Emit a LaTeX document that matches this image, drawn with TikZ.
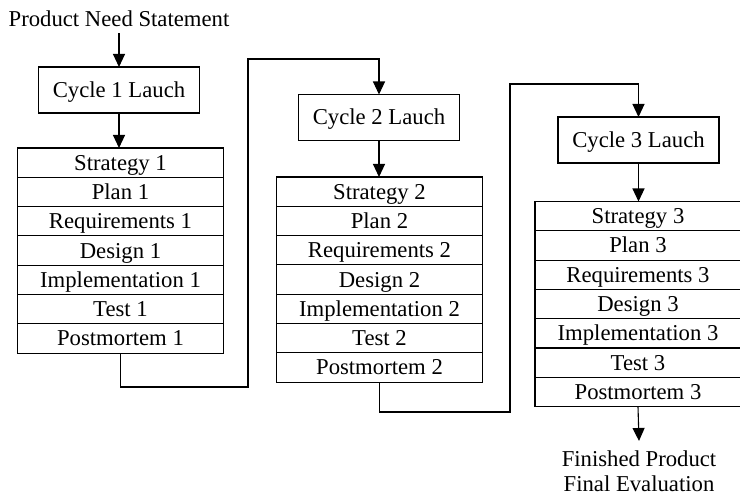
\documentclass[tikz,border=0pt]{standalone}
\usepackage{fontspec}
\setmainfont{Liberation Serif}
\usetikzlibrary{arrows.meta}

\begin{document}
\begin{tikzpicture}
		[
			x=1pt,
			y=-1pt,
			line width=1.1pt,
			font=\fontsize{22.7}{25}\selectfont,
			% Make a style for a launch box.
			launch/.style={draw, minimum width=161pt, minimum height=46pt, inner sep=0pt, outer sep=0pt, text height=15pt, text depth=0pt},
			% And one for a phase row of a cycle.
			phase/.style={draw, minimum width=206pt, minimum height=29.3pt, inner sep=0pt, outer sep=0pt, text height=15pt, text depth=0pt},
			% Arrows between the parts.
			flow/.style={-{Triangle[width=12pt,length=13pt]}}
		]
			\useasboundingbox (0,0) rectangle (740,497);

			\node[inner xsep=0pt, inner ysep=6pt, text height=15pt, text depth=0pt] (need) at (119,19) {Product Need Statement};

			% Launch boxes.
			\node[launch] (c1) at (119,90) {Cycle 1 Lauch};
			\node[launch] (c2) at (379,117.5) {Cycle 2 Lauch};
			\node[launch] (c3) at (638.5,140) {Cycle 3 Lauch};

			% Phase stacks, one for each cycle.
			\foreach \c/\x/\t in {1/120.5/148, 2/379.5/177, 3/638/201.5}
			{
				\foreach \lbl [count=\i] in {Strategy, Plan, Requirements, Design, Implementation, Test, Postmortem}
				{
					\node[phase] (s\c-\i) at (\x,{\t+(\i-0.5)*29.3}) {\lbl\ \c};
				}
			}

			\node[align=center, inner xsep=0pt, inner ysep=9pt] (done) at (639,471) {Finished Product\\Final Evaluation};

			% Turning points of the links between cycles.
			\coordinate (turn1) at (248,387);
			\coordinate (top1) at (c2.north |- 0,59);
			\coordinate (turn2) at (510,412);
			\coordinate (top2) at (c3.north |- 0,84);

			% Draw the arrows.
			\draw[flow] (need.south) -- (need.south |- c1.north);
			\draw[flow] (c1.south) -- (c1.south |- s1-1.north);
			\draw[flow] (c2.south) -- (c2.south |- s2-1.north);
			\draw[flow] (c3.south) -- (c3.south |- s3-1.north);
			\draw[flow] (s1-7.south) |- (turn1) |- (top1) -- (c2.north);
			\draw[flow] (s2-7.south) |- (turn2) |- (top2) -- (c3.north);
			\draw[flow] (s3-7.south) -- (done.north);
		\end{tikzpicture}
\end{document}
